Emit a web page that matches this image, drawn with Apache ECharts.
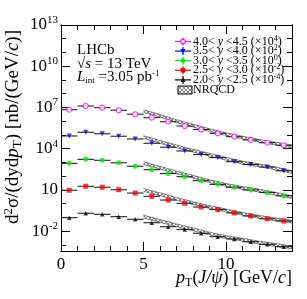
<!DOCTYPE html>
<html><head><meta charset="utf-8">
<script src="https://cdn.jsdelivr.net/npm/echarts@6/dist/echarts.min.js"></script>
<style>html,body{margin:0;padding:0;background:#fff}#c{width:307px;height:299px}</style>
</head><body><div id="c"></div>
<script>
// ---------------- DATA ----------------
const ptEdges = [0,1,2,3,4,5,6,7,8,9,10,11,12,13,14];
const rapLow = [4.0, 3.5, 3.0, 2.5, 2.0];
const rapHigh = [4.5, 4.0, 3.5, 3.0, 2.5];
const scaleExp = [4, 2, 0, -2, -4];
// d2sigma/dy dpT  [nb/(GeV/c)], unscaled, one value per pT bin
const xsec_y40_45 = [692, 1288, 977, 631, 324, 182, 93, 44.7, 25.1, 13.2, 7.6, 4.4, 2.75, 1.78];
const xsec_y35_40 = [851, 1585, 1230, 813, 513, 251, 129, 69, 38, 22.9, 11.5, 7.1, 4.7, 2.5];
const xsec_y30_35 = [871, 1698, 1445, 955, 537, 302, 158, 93, 48, 25.7, 15.8, 10.2, 6.6, 3.8];
const xsec_y25_30 = [955, 1862, 1585, 1047, 603, 347, 186, 107, 57.5, 38, 21.4, 12.9, 8.1, 5.6];
const xsec_y20_25 = [977, 2042, 1698, 1148, 741, 417, 214, 135, 71, 40, 27.5, 17.4, 11.2, 7.6];
// NRQCD band (unscaled)
const nrqcdPt = [5,6,7,8,9,10,11,12,13,14];
const nrqcdLo_y40_45 = [437, 200, 81.3, 38.0, 18.2, 9.12, 5.13, 3.02, 1.91, 1.20];
const nrqcdHi_y40_45 = [692, 316, 129, 60.3, 28.8, 14.5, 8.13, 4.79, 3.02, 1.91];
const nrqcdLo_y35_40 = [562, 251, 117, 57.5, 29.5, 14.8, 7.94, 5.01, 2.95, 1.58];
const nrqcdHi_y35_40 = [891, 398, 186, 91.2, 46.8, 23.4, 12.6, 7.94, 4.68, 2.51];
const nrqcdLo_y30_35 = [708, 331, 151, 74.1, 34.7, 18.6, 11.2, 7.24, 4.27, 2.45];
const nrqcdHi_y30_35 = [1122, 525, 240, 117, 55.0, 29.5, 17.8, 11.5, 6.76, 3.89];
const nrqcdLo_y25_30 = [794, 389, 178, 89.1, 45.7, 25.7, 14.8, 8.91, 5.75, 3.98];
const nrqcdHi_y25_30 = [1259, 617, 282, 141, 72.4, 40.7, 23.4, 14.1, 9.12, 6.31];
const nrqcdLo_y20_25 = [933, 447, 214, 110, 53.7, 30.2, 19.5, 12.0, 7.94, 5.37];
const nrqcdHi_y20_25 = [1479, 708, 339, 174, 85.1, 47.9, 30.9, 19.1, 12.6, 8.51];
// ticks
const xTickLabels = [0, 5, 10];
const xTickMinor = [0,1,2,3,4,5,6,7,8,9,10,11,12,13,14];
const yTickLabels = [1e-2, 1e1, 1e4, 1e7, 1e10, 1e13];
const yTickMinor = [1e-3,1e-2,1e-1,1,1e1,1e2,1e3,1e4,1e5,1e6,1e7,1e8,1e9,1e10,1e11,1e12,1e13];
const yMin = 3.66e-4, yMax = 1e13;
const xMin = 0, xMax = 14;

// ---------------- STYLE ----------------
const FONT = 'Liberation Serif';
const xsecAll = [xsec_y40_45, xsec_y35_40, xsec_y30_35, xsec_y25_30, xsec_y20_25];
const loAll = [nrqcdLo_y40_45, nrqcdLo_y35_40, nrqcdLo_y30_35, nrqcdLo_y25_30, nrqcdLo_y20_25];
const hiAll = [nrqcdHi_y40_45, nrqcdHi_y35_40, nrqcdHi_y30_35, nrqcdHi_y25_30, nrqcdHi_y20_25];
const styles = [
  {color:'#ff00ff', symbol:'circle', size:5, rot:0, open:true},
  {color:'#0000ff', symbol:'triangle', size:5, rot:180, open:false},
  {color:'#00ee00', symbol:'circle', size:5, rot:0, open:false},
  {color:'#ff0000', symbol:'rect', size:5, rot:0, open:false},
  {color:'#000000', symbol:'triangle', size:4.5, rot:0, open:false}
];

function makeHatch(){
  const c = document.createElement('canvas'); c.width = 4; c.height = 4;
  const g = c.getContext('2d');
  g.fillStyle = '#ffffff'; g.fillRect(0,0,4,4);
  g.strokeStyle = '#555'; g.lineWidth = 0.7;
  g.beginPath(); g.moveTo(0,0); g.lineTo(4,4); g.moveTo(4,0); g.lineTo(0,4); g.stroke();
  return c;
}
const hatch = {image: makeHatch(), repeat: 'repeat'};

const series = [];
for (let k = 0; k < 5; k++) {
  const f = Math.pow(10, scaleExp[k]);
  const band = nrqcdPt.map((p,i) => [p, loAll[k][i]*f, hiAll[k][i]*f]);
  series.push({
    type:'custom', name:'NRQCD'+k, z:1, data: band, encode:{x:0, y:[1,2]},
    renderItem(params, api){
      const i = params.dataIndexInside;
      if (i >= params.dataInsideLength - 1) return null;
      const a = api.coord([api.value(0,i), api.value(1,i)]);
      const b = api.coord([api.value(0,i+1), api.value(1,i+1)]);
      const c = api.coord([api.value(0,i+1), api.value(2,i+1)]);
      const d = api.coord([api.value(0,i), api.value(2,i)]);
      return {type:'group', children:[
        {type:'polygon', shape:{points:[a,b,c,d]}, style:{fill:hatch, stroke:null}},
        {type:'polyline', shape:{points:[a,b]}, style:{stroke:'#555', lineWidth:0.7, fill:null}},
        {type:'polyline', shape:{points:[d,c]}, style:{stroke:'#555', lineWidth:0.7, fill:null}}
      ]};
    }
  });
  const bars = xsecAll[k].map((v,i) => [ptEdges[i], ptEdges[i+1], v*f]);
  series.push({
    type:'custom', name:'bars'+k, z:2, data: bars, encode:{x:[0,1], y:2},
    renderItem(params, api){
      const p0 = api.coord([api.value(0), api.value(2)]);
      const p1 = api.coord([api.value(1), api.value(2)]);
      return {type:'line', shape:{x1:p0[0], y1:p0[1], x2:p1[0], y2:p1[1]}, style:{stroke:'#222', lineWidth:1.1}};
    }
  });
  const s = styles[k];
  const pts = xsecAll[k].map((v,i) => [(ptEdges[i]+ptEdges[i+1])/2, v*f]);
  series.push({
    type:'scatter', name:'data'+k, z:3, data: pts, symbol:s.symbol, symbolSize:s.size, symbolRotate:s.rot,
    itemStyle: s.open ? {color:'#fff', borderColor:s.color, borderWidth:1.1} : {color:s.color},
    emphasis:{disabled:true}
  });
}

function yFmt(v){
  const e = Math.round(Math.log10(v));
  if (e === 1) return '{b|10}';
  return '{b|10}{s|' + e + '}';
}
const axisLine = {show:true, onZero:false, lineStyle:{color:'#000', width:1}};
const yBase = {type:'log', min:yMin, max:yMax, splitLine:{show:false}, axisLine};
const xBase = {type:'value', min:xMin, max:xMax, splitLine:{show:false}, axisLine};

const legendGraphics = [];
for (let k = 0; k < 5; k++) {
  const y = 41.5 + 9.6*k, x = 183, s = styles[k];
  legendGraphics.push({type:'line', shape:{x1:175, y1:y, x2:191, y2:y}, style:{stroke:s.color, lineWidth:1.2}});
  legendGraphics.push({type:'line', shape:{x1:x, y1:y-4, x2:x, y2:y+4}, style:{stroke:s.color, lineWidth:1.2}});
  let m;
  if (s.symbol === 'circle') m = {type:'circle', shape:{cx:x, cy:y, r:2.3}, style: s.open ? {fill:'#fff', stroke:s.color, lineWidth:1.1} : {fill:s.color}};
  else if (s.symbol === 'rect') m = {type:'rect', shape:{x:x-2.3, y:y-2.3, width:4.6, height:4.6}, style:{fill:s.color}};
  else if (s.rot === 180) m = {type:'polygon', shape:{points:[[x-2.6,y-2.2],[x+2.6,y-2.2],[x,y+2.3]]}, style:{fill:s.color}};
  else m = {type:'polygon', shape:{points:[[x-2.4,y+2],[x+2.4,y+2],[x,y-2.3]]}, style:{fill:s.color}};
  legendGraphics.push(m);
  const txt = '{n|' + rapLow[k].toFixed(1) + '< }{i|y}{n| <' + rapHigh[k].toFixed(1) + ' (×10}{s|' + scaleExp[k] + '}{n|)}';
  legendGraphics.push({type:'text', x:193, y:y, style:{text:txt, verticalAlign:'middle', align:'left',
    rich:{n:{fontFamily:FONT, fontSize:12, fill:'#000'}, i:{fontFamily:FONT, fontSize:12, fontStyle:'italic', fill:'#000'}, s:{fontFamily:FONT, fontSize:8, fill:'#000', padding:[0,0,6,0]}}}});
}
legendGraphics.push({type:'rect', shape:{x:178, y:86, width:14, height:8}, style:{fill:hatch, stroke:'#000', lineWidth:1}});
legendGraphics.push({type:'text', x:193, y:90, style:{text:'NRQCD', fontFamily:FONT, fontSize:12, fill:'#000', verticalAlign:'middle'}});

const txtRich = {
  n:{fontFamily:FONT, fontSize:15, fill:'#000'},
  i:{fontFamily:FONT, fontSize:15, fontStyle:'italic', fill:'#000'},
  sub:{fontFamily:FONT, fontSize:9, fill:'#000', padding:[7,0,0,0]},
  sup:{fontFamily:FONT, fontSize:9, fill:'#000', padding:[0,0,7,0]}
};
const titleRich = {
  n:{fontFamily:FONT, fontSize:19, fill:'#000'},
  i:{fontFamily:FONT, fontSize:19, fontStyle:'italic', fill:'#000'},
  sub:{fontFamily:FONT, fontSize:13, fill:'#000', padding:[9,0,0,0]},
  sup:{fontFamily:FONT, fontSize:13, fill:'#000', padding:[0,0,9,0]}
};
const xTitleRich = {
  n:{fontFamily:FONT, fontSize:18, fill:'#000'},
  i:{fontFamily:FONT, fontSize:18, fontStyle:'italic', fill:'#000'},
  sub:{fontFamily:FONT, fontSize:12, fill:'#000', padding:[10,0,0,0]}
};

const option = {
  animation:false,
  backgroundColor:'#fff',
  grid:{left:61, right:15, top:25, bottom:48, containLabel:false},
  xAxis:[
    Object.assign({}, xBase, {position:'bottom', axisTick:{show:true, inside:true, length:9, customValues:xTickLabels, lineStyle:{color:'#000'}},
      axisLabel:{show:true, customValues:xTickLabels, fontFamily:FONT, fontSize:17, color:'#000', margin:5}}),
    Object.assign({}, xBase, {position:'bottom', axisTick:{show:true, inside:true, length:5, customValues:xTickMinor, lineStyle:{color:'#000'}}, axisLabel:{show:false}}),
    Object.assign({}, xBase, {position:'top', axisTick:{show:true, inside:true, length:9, customValues:xTickLabels, lineStyle:{color:'#000'}}, axisLabel:{show:false}}),
    Object.assign({}, xBase, {position:'top', axisTick:{show:true, inside:true, length:5, customValues:xTickMinor, lineStyle:{color:'#000'}}, axisLabel:{show:false}})
  ],
  yAxis:[
    Object.assign({}, yBase, {position:'left', axisTick:{show:true, inside:true, length:9, customValues:yTickLabels, lineStyle:{color:'#000'}},
      axisLabel:{show:true, customValues:yTickLabels, formatter:yFmt, margin:3, color:'#000',
        rich:{b:{fontFamily:FONT, fontSize:17, fill:'#000'}, s:{fontFamily:FONT, fontSize:11, fill:'#000', padding:[0,0,10,0]}}}}),
    Object.assign({}, yBase, {position:'left', axisTick:{show:true, inside:true, length:5, customValues:yTickMinor, lineStyle:{color:'#000'}}, axisLabel:{show:false}}),
    Object.assign({}, yBase, {position:'right', axisTick:{show:true, inside:true, length:9, customValues:yTickLabels, lineStyle:{color:'#000'}}, axisLabel:{show:false}}),
    Object.assign({}, yBase, {position:'right', axisTick:{show:true, inside:true, length:5, customValues:yTickMinor, lineStyle:{color:'#000'}}, axisLabel:{show:false}})
  ],
  series: series,
  graphic: [
    {type:'text', x:77, y:50, style:{text:'LHCb', fontFamily:FONT, fontSize:15, fill:'#000', verticalAlign:'middle'}},
    {type:'text', x:77, y:64, style:{text:'{n|√}{i|s}{n| = 13 TeV}', rich:txtRich, verticalAlign:'middle'}},
    {type:'text', x:77, y:77, style:{text:'{i|L}{sub|int}{n| =3.05 pb}{sup|-1}', rich:txtRich, verticalAlign:'middle'}},
    {type:'text', x:13, y:127, rotation:Math.PI/2, style:{text:'{n|d}{sup|2}{n|σ/(dyd}{i|p}{sub|T}{n|) [nb/(GeV/}{i|c}{n|)]}', rich:titleRich, align:'center', verticalAlign:'middle'}},
    {type:'text', x:292, y:278, style:{text:'{i|p}{sub|T}{n|(}{i|J/ψ}{n|) [GeV/}{i|c}{n|]}', rich:xTitleRich, align:'right', verticalAlign:'middle'}}
  ].concat(legendGraphics)
};
const chart = echarts.init(document.getElementById('c'), null, {renderer:'canvas'});
chart.setOption(option);
</script></body></html>
